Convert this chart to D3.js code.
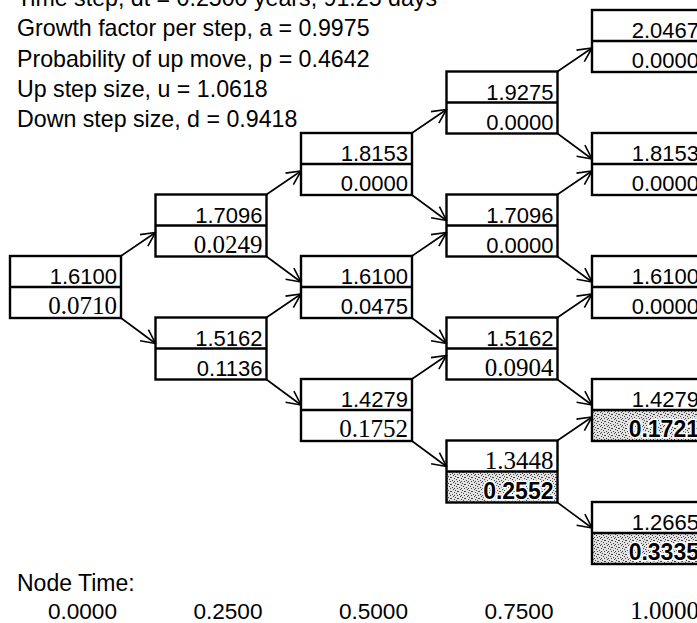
<!DOCTYPE html>
<html>
<head>
<meta charset="utf-8">
<script src="https://cdn.jsdelivr.net/npm/d3@7"></script>
<style>
  html, body { margin: 0; padding: 0; background: #fff; }
  svg { display: block; }
</style>
</head>
<body>
<div id="chart"></div>
<script>
// ---------------- DATA ----------------
const headerLines = [
  "Time step, dt = 0.2500 years, 91.25 days",
  "Growth factor per step, a = 0.9975",
  "Probability of up move, p = 0.4642",
  "Up step size, u = 1.0618",
  "Down step size, d = 0.9418"
];
const nodeTimeTitle = "Node Time:";
const nodeTimes = [0.0, 0.25, 0.5, 0.75, 1.0];

// node i: step (time index) and number of down moves
const nodeStep = [0, 1, 1, 2, 2, 2, 3, 3, 3, 3, 4, 4, 4, 4, 4];
const nodeDown = [0, 0, 1, 0, 1, 2, 0, 1, 2, 3, 0, 1, 2, 3, 4];
const stockPrice = [1.6100, 1.7096, 1.5162, 1.8153, 1.6100, 1.4279, 1.9275, 1.7096, 1.5162, 1.3448,
                    2.0467, 1.8153, 1.6100, 1.4279, 1.2665];
const optionValue = [0.0710, 0.0249, 0.1136, 0.0000, 0.0475, 0.1752, 0.0000, 0.0000, 0.0904, 0.2552,
                     0.0000, 0.0000, 0.0000, 0.1721, 0.3335];
const exercised = [false, false, false, false, false, false, false, false, false, true,
                   false, false, false, true, true];

// ---------------- STYLE ----------------
const W = 697, H = 623;
const sans = "'Liberation Sans', Arial, Helvetica, sans-serif";
const serif = "'Liberation Serif', 'Times New Roman', Times, serif";
const serifPriceNodes = new Set([9]);
const serifValueNodes = new Set([0, 1, 5, 8]);
const serifTimeLabels = new Set([4]);
const boxW = 111, halfH = 31;
const fmt = d3.format(".4f");

const svg = d3.select("#chart").append("svg")
  .attr("width", W).attr("height", H)
  .attr("viewBox", `0 0 ${W} ${H}`);

const defs = svg.append("defs");
// stipple pattern for early-exercise cells
const pat = defs.append("pattern").attr("id", "stipple")
  .attr("patternUnits", "userSpaceOnUse").attr("width", 7).attr("height", 7);
pat.append("rect").attr("width", 7).attr("height", 7).attr("fill", "#e2e2e2");
[[0,0],[3,1],[6,2],[1,3],[4,4],[2,5],[5,6],[6,5],[2,1]].forEach(([a,b]) =>
  pat.append("rect").attr("x", a).attr("y", b).attr("width", 1).attr("height", 1).attr("fill", "#444"));

defs.append("marker").attr("id", "arrow")
  .attr("viewBox", "0 0 16 16").attr("refX", 15).attr("refY", 8)
  .attr("markerWidth", 16).attr("markerHeight", 16)
  .attr("markerUnits", "userSpaceOnUse").attr("orient", "auto")
  .append("path").attr("d", "M1,1 L15,8 L1,15")
  .attr("fill", "none").attr("stroke", "#000").attr("stroke-width", 1.6);

// scales
const x = d3.scaleLinear().domain([0, 4]).range([10, 592]);
const y = d3.scaleLinear().domain([-4, 4]).range([287 + 246, 287 - 246]); // mid line of node box

const nodes = nodeStep.map((s, i) => ({
  i, step: s, down: nodeDown[i], level: s - 2 * nodeDown[i],
  price: stockPrice[i], value: optionValue[i], ex: exercised[i]
}));
nodes.forEach(n => { n.x0 = x(n.step); n.x1 = n.x0 + boxW; n.ym = y(n.level); });
const find = (s, d) => nodes.find(n => n.step === s && n.down === d);

// header text
svg.append("g").selectAll("text").data(headerLines).join("text")
  .attr("x", 17).attr("y", (d, i) => 6 + i * 30.3)
  .attr("font-family", sans).attr("font-size", 23.2).attr("fill", "#000")
  .text(d => d);

// edges
const edges = [];
nodes.filter(n => n.step < 4).forEach(n => {
  edges.push({ from: n, to: find(n.step + 1, n.down), up: true });
  edges.push({ from: n, to: find(n.step + 1, n.down + 1), up: false });
});
svg.append("g").selectAll("line").data(edges).join("line")
  .attr("x1", e => e.from.x1)
  .attr("y1", e => e.up ? e.from.ym - halfH : e.from.ym + halfH)
  .attr("x2", e => e.to.x0)
  .attr("y2", e => e.up ? e.to.ym + 7 : e.to.ym - 5)
  .attr("stroke", "#000").attr("stroke-width", 1.6)
  .attr("marker-end", "url(#arrow)");

// node boxes
const g = svg.append("g").selectAll("g").data(nodes).join("g");
g.filter(n => n.ex).append("rect")
  .attr("x", n => n.x0).attr("y", n => n.ym).attr("width", boxW).attr("height", halfH)
  .attr("fill", "url(#stipple)");
g.append("rect")
  .attr("x", n => n.x0).attr("y", n => n.ym - halfH).attr("width", boxW).attr("height", 2 * halfH)
  .attr("fill", "none").attr("stroke", "#000").attr("stroke-width", 2.4);
g.append("line")
  .attr("x1", n => n.x0).attr("x2", n => n.x1).attr("y1", n => n.ym).attr("y2", n => n.ym)
  .attr("stroke", "#000").attr("stroke-width", 2.4);
g.append("text")
  .attr("x", n => n.x1 - 4).attr("y", n => n.ym - 3)
  .attr("text-anchor", "end")
  .attr("font-family", n => serifPriceNodes.has(n.i) ? serif : sans)
  .attr("font-size", n => serifPriceNodes.has(n.i) ? 25 : 22)
  .attr("fill", "#000")
  .text(n => fmt(n.price));
g.append("text")
  .attr("x", n => n.x1 - 4).attr("y", n => n.ym + halfH - 4)
  .attr("text-anchor", "end")
  .attr("font-family", n => serifValueNodes.has(n.i) ? serif : sans)
  .attr("font-size", n => serifValueNodes.has(n.i) ? 25 : (n.ex ? 23 : 22))
  .attr("font-weight", n => n.ex ? "bold" : "normal")
  .attr("fill", "#000")
  .attr("stroke", n => n.ex ? "#fff" : "none")
  .attr("stroke-width", n => n.ex ? 3 : 0)
  .attr("paint-order", "stroke")
  .text(n => fmt(n.value));

// node time axis
svg.append("text").attr("x", 17).attr("y", 591)
  .attr("font-family", sans).attr("font-size", 23).attr("fill", "#000")
  .text(nodeTimeTitle);
svg.append("g").selectAll("text").data(nodeTimes).join("text")
  .attr("x", (t, i) => x(i) + boxW - 4).attr("y", 619)
  .attr("text-anchor", "end")
  .attr("font-family", (t, i) => serifTimeLabels.has(i) ? serif : sans)
  .attr("font-size", (t, i) => serifTimeLabels.has(i) ? 25 : 22.6)
  .attr("fill", "#000")
  .text(t => fmt(t));
</script>
</body>
</html>
